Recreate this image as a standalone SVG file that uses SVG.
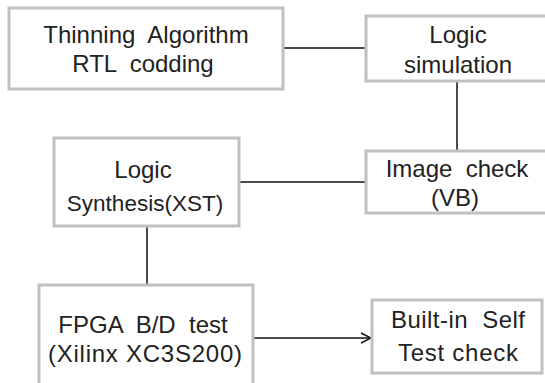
<svg xmlns="http://www.w3.org/2000/svg" width="545" height="383" viewBox="0 0 545 383" xml:space="preserve">
<defs>
<style>
.box{fill:#fff;stroke:#c0c0c0;stroke-width:3}
.lbl{font-family:"Liberation Sans","DejaVu Sans",sans-serif;font-size:24px;fill:#222;text-anchor:middle;white-space:pre}
.sm{font-size:22.5px}
.ln{stroke:#111;stroke-width:1.5;fill:none}
</style>
<marker id="arr" viewBox="0 0 12 12" refX="11" refY="6" markerWidth="12" markerHeight="12" markerUnits="userSpaceOnUse" orient="auto">
<path d="M1,1 L11,6 L1,11" fill="none" stroke="#111" stroke-width="1.4"/>
</marker>
</defs>
<rect width="545" height="383" fill="#fff"/>
<g id="connectors">
<line class="ln" x1="283" y1="48" x2="366" y2="48"/>
<line class="ln" x1="457" y1="81" x2="457" y2="151"/>
<line class="ln" x1="239" y1="182" x2="366" y2="182" stroke="#444"/>
<line class="ln" x1="147" y1="226" x2="147" y2="285"/>
<line class="ln" x1="253" y1="338" x2="371" y2="338" marker-end="url(#arr)"/>
</g>
<g id="thinning">
<rect class="box" x="9" y="8" width="274" height="81"/>
<text class="lbl" x="146" y="43">Thinning  Algorithm</text>
<text class="lbl" x="143" y="72">RTL  codding</text>
</g>
<g id="logic-sim">
<rect class="box" x="366" y="16" width="192" height="65"/>
<text class="lbl" x="458" y="43">Logic</text>
<text class="lbl" x="458" y="73">simulation</text>
</g>
<g id="image-check">
<rect class="box" x="366" y="151" width="192" height="62"/>
<text class="lbl" x="457" y="177">Image  check</text>
<text class="lbl" x="455" y="206">(VB)</text>
</g>
<g id="logic-synth">
<rect class="box" x="54" y="138" width="185" height="88"/>
<text class="lbl" x="143" y="178">Logic</text>
<text class="lbl sm" x="145" y="211">Synthesis(XST)</text>
</g>
<g id="fpga">
<rect class="box" x="39" y="285" width="214" height="110"/>
<text class="lbl" x="143" y="333">FPGA  B/D  test</text>
<text class="lbl" x="145" y="362" textLength="194" lengthAdjust="spacing">(Xilinx XC3S200)</text>
</g>
<g id="bist">
<rect class="box" x="372" y="300" width="170" height="73"/>
<text class="lbl" x="458" y="328" textLength="134" lengthAdjust="spacing">Built-in  Self</text>
<text class="lbl" x="458" y="361" textLength="120" lengthAdjust="spacing">Test check</text>
</g>
</svg>
